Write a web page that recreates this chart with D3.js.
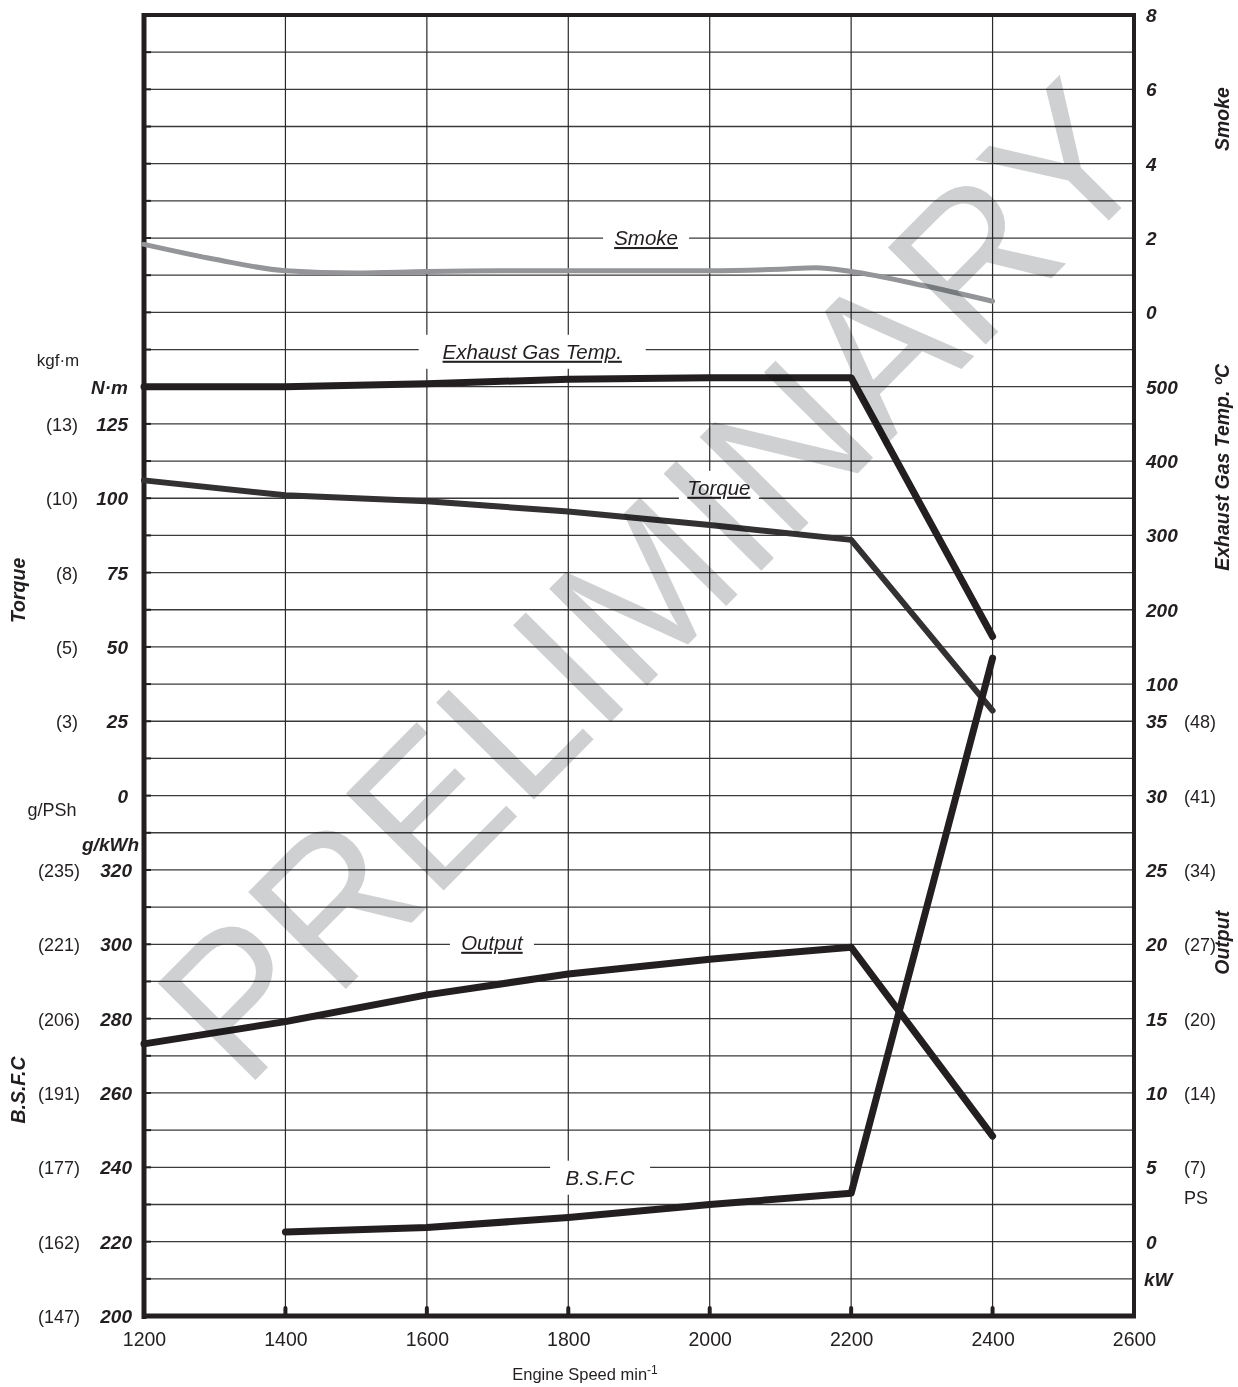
<!DOCTYPE html>
<html>
<head>
<meta charset="utf-8">
<script src="https://cdn.jsdelivr.net/npm/d3@7"></script>
<style>
  html, body { margin: 0; padding: 0; background: #fff; }
  svg { display: block; font-family: "Liberation Sans", Arial, sans-serif; }
</style>
</head>
<body>
<svg id="chart" width="1238" height="1387"></svg>
<script>
// Engine performance curves vs. engine speed
const speeds      = [1200, 1400, 1600, 1800, 2000, 2200, 2400];
const torqueNm    = [106, 101, 99, 95.5, 91, 86, 28.6];
const exhaustTemp = [500, 500, 504, 510, 512, 512, 164];
const outputKw    = [13.3, 14.8, 16.6, 18.0, 19.0, 19.8, 7.1];
const bsfcSpeeds  = [1400, 1600, 1800, 2000, 2200, 2400];
const bsfc        = [222.6, 223.8, 226.5, 230, 233, 377];
const smokeSpeeds = [1200, 1300, 1400, 1500, 1600, 1700, 1800, 2000, 2100, 2150, 2200, 2300, 2400];
const smoke       = [1.83, 1.43, 1.12, 1.06, 1.1, 1.12, 1.12, 1.12, 1.16, 1.2, 1.1, 0.73, 0.3];

// Axis tick labels
const xTicks        = [1200, 1400, 1600, 1800, 2000, 2200, 2400, 2600];
const torqueTicks   = [125, 100, 75, 50, 25, 0];
const torqueKgf     = ["(13)", "(10)", "(8)", "(5)", "(3)", ""];
const bsfcTicks     = [320, 300, 280, 260, 240, 220, 200];
const bsfcPSh       = ["(235)", "(221)", "(206)", "(191)", "(177)", "(162)", "(147)"];
const smokeTicks    = [8, 6, 4, 2, 0];
const exhaustTicks  = [500, 400, 300, 200, 100];
const outputTicks   = [35, 30, 25, 20, 15, 10, 5, 0];
const outputPS      = ["(48)", "(41)", "(34)", "(27)", "(20)", "(14)", "(7)", ""];

const svg = d3.select("#chart");
const plotL = 144, plotR = 1134, plotT = 15, plotB = 1316;
const nRows = 35;
const ink = "#231f20";

const x = d3.scaleLinear().domain([1200, 2600]).range([plotL, plotR]);
const row = d3.scaleLinear().domain([0, nRows]).range([plotB, plotT]);
// each quantity shares the same row grid
const yBsfc    = d3.scaleLinear().domain([200, 550]).range([plotB, plotT]);
const yTorque  = d3.scaleLinear().domain([-175, 262.5]).range([plotB, plotT]);
const yKw      = d3.scaleLinear().domain([-5, 82.5]).range([plotB, plotT]);
const yExhaust = d3.scaleLinear().domain([-750, 1000]).range([plotB, plotT]);
const ySmoke   = d3.scaleLinear().domain([-27, 8]).range([plotB, plotT]);

// grid
const grid = svg.append("g");
grid.selectAll("line.h").data(d3.range(1, nRows)).join("line")
  .attr("x1", plotL).attr("x2", plotR)
  .attr("y1", d => row(d)).attr("y2", d => row(d))
  .attr("stroke", "#3a3a3a").attr("stroke-width", 1.3);
grid.selectAll("line.v").data([1400, 1600, 1800, 2000, 2200, 2400]).join("line")
  .attr("x1", d => x(d)).attr("x2", d => x(d))
  .attr("y1", plotT).attr("y2", plotB)
  .attr("stroke", "#2a2a2a").attr("stroke-width", 1.2);

// curve labels with knock-out boxes
const curveLabels = [
  { t: "Smoke", sx: 1910, v: 2, sc: ySmoke, u: true, w: 86 },
  { t: "Exhaust Gas Temp.", sx: 1749, v: 547, sc: yExhaust, u: true, w: 227 },
  { t: "Torque", sx: 2013, v: 103.5, sc: yTorque, u: true, w: 80 },
  { t: "Output", sx: 1692, v: 20.1, sc: yKw, u: true, w: 84 },
  { t: "B.S.F.C", sx: 1845, v: 237.2, sc: yBsfc, u: false, w: 100 }
];
const lg = svg.append("g");
curveLabels.forEach(l => {
  const cx = x(l.sx), cy = l.sc(l.v);
  lg.append("rect").attr("x", cx - l.w / 2).attr("y", cy - 17).attr("width", l.w).attr("height", 34).attr("fill", "#fff");
  lg.append("text").attr("x", cx).attr("y", cy + 7).attr("text-anchor", "middle")
    .attr("font-size", 20.5).attr("font-style", "italic").attr("fill", ink)
    .attr("text-decoration", l.u ? "underline" : null).text(l.t);
});

// frame
const fr = svg.append("g");
fr.append("line").attr("x1", plotL).attr("x2", plotR).attr("y1", plotT).attr("y2", plotT).attr("stroke", ink).attr("stroke-width", 4);
fr.append("line").attr("x1", plotR).attr("x2", plotR).attr("y1", plotT - 2).attr("y2", plotB + 2).attr("stroke", ink).attr("stroke-width", 4);
fr.append("line").attr("x1", plotL).attr("x2", plotL).attr("y1", plotT - 2).attr("y2", plotB + 3).attr("stroke", ink).attr("stroke-width", 5);
fr.append("line").attr("x1", plotL - 2).attr("x2", plotR + 2).attr("y1", plotB).attr("y2", plotB).attr("stroke", ink).attr("stroke-width", 5);
fr.selectAll("line.lt").data(d3.range(1, nRows)).join("line")
  .attr("x1", plotL).attr("x2", plotL + 7).attr("y1", d => row(d)).attr("y2", d => row(d))
  .attr("stroke", ink).attr("stroke-width", 2);
fr.selectAll("line.bt").data([1400, 1600, 1800, 2000, 2200, 2400]).join("line")
  .attr("x1", d => x(d)).attr("x2", d => x(d)).attr("y1", plotB - 8).attr("y2", plotB)
  .attr("stroke", ink).attr("stroke-width", 4).attr("stroke-linecap", "round");

// data curves
const curves = svg.append("g").attr("fill", "none").attr("stroke-linejoin", "round").attr("stroke-linecap", "round");
curves.append("path").datum(smokeSpeeds.map((s, i) => [s, smoke[i]]))
  .attr("d", d3.line().x(d => x(d[0])).y(d => ySmoke(d[1])).curve(d3.curveMonotoneX))
  .attr("stroke", "#939598").attr("stroke-width", 5);
curves.append("path").datum(speeds.map((s, i) => [s, exhaustTemp[i]]))
  .attr("d", d3.line().x(d => x(d[0])).y(d => yExhaust(d[1])))
  .attr("stroke", ink).attr("stroke-width", 7);
curves.append("path").datum(speeds.map((s, i) => [s, torqueNm[i]]))
  .attr("d", d3.line().x(d => x(d[0])).y(d => yTorque(d[1])))
  .attr("stroke", "#333132").attr("stroke-width", 6);
curves.append("path").datum(speeds.map((s, i) => [s, outputKw[i]]))
  .attr("d", d3.line().x(d => x(d[0])).y(d => yKw(d[1])))
  .attr("stroke", ink).attr("stroke-width", 7);
curves.append("path").datum(bsfcSpeeds.map((s, i) => [s, bsfc[i]]))
  .attr("d", d3.line().x(d => x(d[0])).y(d => yBsfc(d[1])))
  .attr("stroke", ink).attr("stroke-width", 7);

// axis text helpers
const txt = (g, xx, yy, s, o) => g.append("text").attr("x", xx).attr("y", yy)
  .attr("font-size", o.size || 19).attr("font-weight", o.bold ? "bold" : null)
  .attr("font-style", o.italic ? "italic" : null).attr("text-anchor", o.anchor || "start")
  .attr("fill", ink).text(s);
const title = (g, xx, yy, s) => g.append("text").attr("transform", `translate(${xx},${yy}) rotate(-90)`)
  .attr("text-anchor", "middle").attr("font-size", 19.5).attr("font-weight", "bold")
  .attr("font-style", "italic").attr("fill", ink).text(s);

const ax = svg.append("g");
// left: torque
torqueTicks.forEach((v, i) => {
  txt(ax, 128, yTorque(v) + 7, v, { bold: true, italic: true, anchor: "end" });
  if (torqueKgf[i]) txt(ax, 78, yTorque(v) + 7, torqueKgf[i], { size: 18, anchor: "end" });
});
txt(ax, 128, yTorque(137.5) + 7, "N·m", { bold: true, italic: true, anchor: "end" });
txt(ax, 58, yTorque(146.5) + 6, "kgf·m", { size: 17, anchor: "middle" });
// left: bsfc
bsfcTicks.forEach((v, i) => {
  txt(ax, 132, yBsfc(v) + 7, v, { bold: true, italic: true, anchor: "end" });
  txt(ax, 80, yBsfc(v) + 7, bsfcPSh[i], { size: 18, anchor: "end" });
});
txt(ax, 139, yBsfc(327) + 7, "g/kWh", { bold: true, italic: true, anchor: "end" });
txt(ax, 52, yBsfc(336.5) + 7, "g/PSh", { size: 18, anchor: "middle" });
title(ax, 25, yTorque(69), "Torque");
title(ax, 25, yBsfc(260.8), "B.S.F.C");

// right: smoke, exhaust, output
smokeTicks.forEach(v => txt(ax, 1146, ySmoke(v) + 7, v, { bold: true, italic: true }));
exhaustTicks.forEach(v => txt(ax, 1146, yExhaust(v) + 7, v, { bold: true, italic: true }));
outputTicks.forEach((v, i) => {
  txt(ax, 1146, yKw(v) + 7, v, { bold: true, italic: true });
  if (outputPS[i]) txt(ax, 1184, yKw(v) + 7, outputPS[i], { size: 18 });
});
txt(ax, 1184, yKw(3) + 7, "PS", { size: 18 });
txt(ax, 1144, yKw(-2.5) + 7, "kW", { bold: true, italic: true });
title(ax, 1229, ySmoke(5.2), "Smoke");
title(ax, 1229, yExhaust(391.5), "Exhaust Gas Temp. ºC");
title(ax, 1229, yKw(20.1), "Output");

// bottom axis
const xAxis = d3.axisBottom(x).tickValues(xTicks).tickSize(0).tickPadding(16).tickFormat(d3.format("d"));
const xg = svg.append("g").attr("transform", `translate(0,${plotB})`).call(xAxis);
xg.select(".domain").remove();
xg.selectAll("text").attr("font-size", 19.5).attr("fill", ink).attr("font-family", "Liberation Sans, Arial, sans-serif");
const xt = svg.append("text").attr("x", 585).attr("y", 1380).attr("text-anchor", "middle").attr("font-size", 16.5).attr("fill", ink);
xt.append("tspan").text("Engine Speed min");
xt.append("tspan").attr("dy", -6).attr("font-size", 12).text("-1");

// watermark
svg.append("text")
  .attr("transform", "translate(653,581) rotate(-45.2)")
  .attr("text-anchor", "middle").attr("dominant-baseline", "central")
  .attr("font-size", 200).attr("textLength", 1300).attr("lengthAdjust", "spacingAndGlyphs")
  .attr("fill", "#a7a9ac").attr("fill-opacity", 0.55).style("mix-blend-mode", "multiply")
  .text("PRELIMINARY");
</script>
</body>
</html>
